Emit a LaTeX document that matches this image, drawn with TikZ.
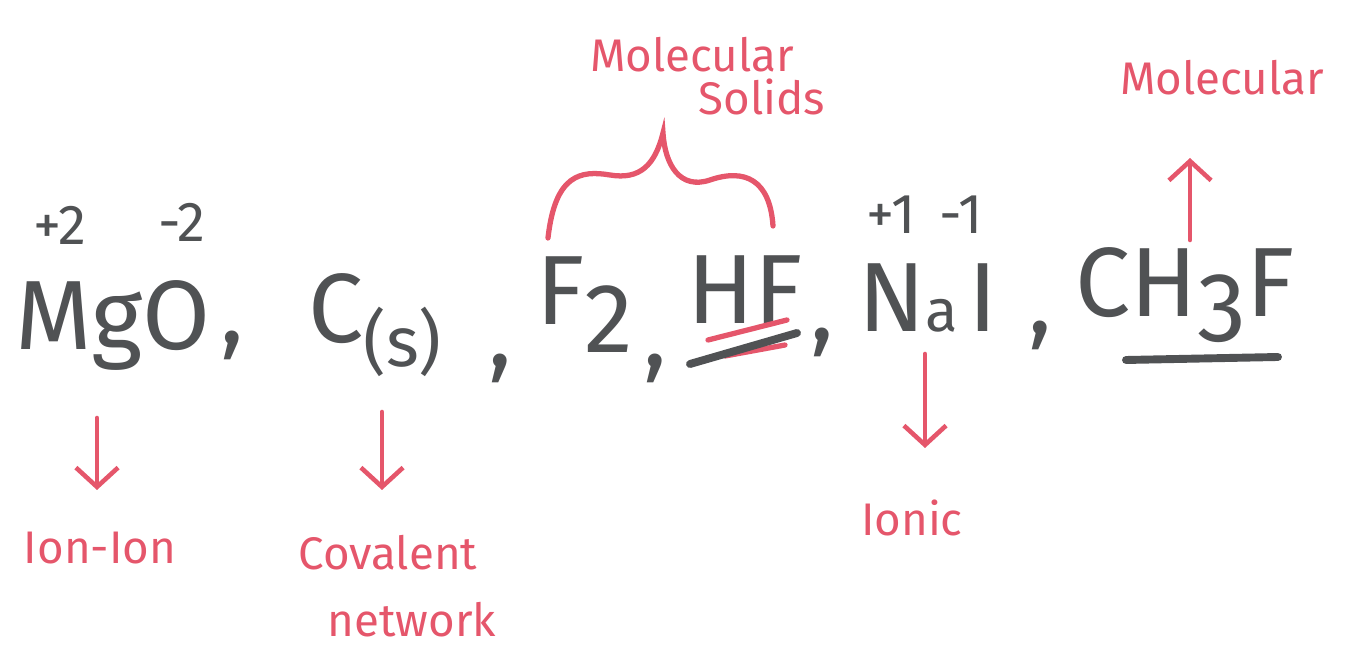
\documentclass[tikz,border=0pt]{standalone}
\usepackage{fontspec}
\setmainfont{Fira Sans}
\definecolor{ink}{HTML}{505254}
\definecolor{pen}{HTML}{E5566B}
\tikzset{
  formula/.style={text=ink, font=\fontsize{56}{56}\selectfont, inner sep=0pt},
  charge/.style={text=ink, font=\fontsize{32}{32}\selectfont, inner sep=0pt},
  lbl/.style={text=pen, font=\fontsize{26}{26}\selectfont, inner sep=0pt},
  redarrow/.style={draw=pen, line width=2.6pt, line cap=round, -{Straight Barb[length=11pt,width=24pt,line width=2.6pt]}},
  redline/.style={draw=pen, line width=3pt, line cap=round},
  grayline/.style={draw=ink, line width=4.5pt, line cap=round}
}
\usetikzlibrary{arrows.meta}
\begin{document}
\begin{tikzpicture}[x=0.02cm,y=-0.02cm]
\useasboundingbox (0,0) rectangle (1350,651);
% charges
\node[charge] (c1) at (60,225) {+2};
\node[charge] (c2) at (182,222) {-2};
\node[charge] (c3) at (925,215) {+1\hspace{14pt}-1};
% formulas
\node[formula] (mgo) at (113,325) {MgO};
\node[formula] (k1) at (232,345) {,};
\node[formula] (cs) at (375,325) {C\raisebox{-14pt}{\fontsize{40}{40}\selectfont(s)}};
\node[formula] (k2) at (500,368) {,};
\node[formula] (f2) at (585,305) {F\raisebox{-16pt}{2}};
\node[formula] (k3) at (655,368) {,};
\node[formula] (hf) at (745,290) {HF};
\node[formula] (k4) at (822,342) {,};
\node[formula] (nai) at (928,298) {N{\fontsize{34}{34}\selectfont a}\hspace{6pt}I};
\node[formula] (k5) at (1040,335) {,};
\node[formula] (ch3f) at (1185,295) {CH\raisebox{-14pt}{3}F};
% underlines
\coordinate (hr1) at (708,340); \coordinate (hr2) at (787,320);
\coordinate (hg1) at (690,364); \coordinate (hg2) at (797,333);
\draw[redline] (hr1) -- (hr2);
\draw[redline] (725,356) -- (785,345);
\draw[grayline] (hg1) -- (hg2);
\coordinate (cu1) at (1126,360); \coordinate (cu2) at (1278,357);
\draw[grayline] (cu1) -- (cu2);
% labels
\node[lbl] (l1) at (100,548) {Ion-Ion};
\node[lbl] (l2a) at (388,553) {Covalent};
\node[lbl] (l2b) at (412,620) {network};
\node[lbl] (l3) at (912,518) {Ionic};
\node[lbl] (l4) at (1222,78) {Molecular};
\node[lbl] (l5a) at (692,55) {Molecular};
\node[lbl] (l5b) at (762,97) {Solids};
% arrows
\coordinate (a1s) at (97,418); \coordinate (a1e) at (97,490);
\coordinate (a2s) at (382,412); \coordinate (a2e) at (382,490);
\coordinate (a3s) at (925,354); \coordinate (a3e) at (925,448);
\coordinate (a4s) at (1190,240); \coordinate (a4e) at (1190,158);
\draw[redarrow] (a1s) -- (a1e);
\draw[redarrow] (a2s) -- (a2e);
\draw[redarrow] (a3s) -- (a3e);
\draw[redarrow] (a4s) -- (a4e);
% brace
\coordinate (b1) at (548,238); \coordinate (bt) at (663,133); \coordinate (b2) at (773,226);
\draw[redline] (b1) .. controls (555,175) and (580,170) .. (610,175)
  .. controls (640,180) and (655,165) .. (bt)
  .. controls (665,165) and (680,190) .. (710,180)
  .. controls (745,168) and (770,180) .. (b2);
\end{tikzpicture}
\end{document}
